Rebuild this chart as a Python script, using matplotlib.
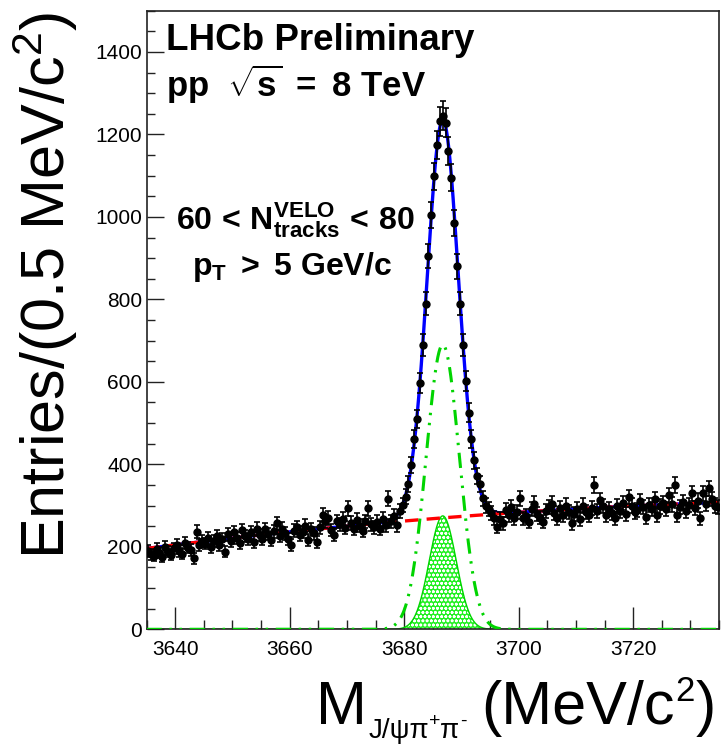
import numpy as np
import matplotlib
matplotlib.use("Agg")
import matplotlib.pyplot as plt
from matplotlib.ticker import MultipleLocator

plt.rcParams["font.family"] = ["Liberation Sans", "DejaVu Sans"]
plt.rcParams["mathtext.fontset"] = "custom"
plt.rcParams["mathtext.rm"] = "Liberation Sans"
plt.rcParams["mathtext.bf"] = "Liberation Sans:bold"
plt.rcParams["mathtext.it"] = "Liberation Sans:italic"
plt.rcParams["mathtext.sf"] = "Liberation Sans"
plt.rcParams["hatch.linewidth"] = 0.8

# ---- histogram: J/psi pi+ pi- invariant mass, 0.5 MeV bins ----
mass_lo, mass_hi, bin_width = 3635.0, 3735.0, 0.5
counts = [
    # 3635.25 - 3644.75
    190, 182, 178, 195, 186, 176, 200, 188, 181, 196,
    205, 190, 183, 210, 198, 192, 172, 237, 205, 214,
    # 3645.25 - 3654.75
    208, 222, 199, 215, 226, 205, 218, 188, 230, 214,
    236, 221, 209, 240, 226, 218, 235, 212, 244, 229,
    # 3655.25 - 3664.75
    220, 242, 231, 216, 238, 257, 226, 244, 233, 218,
    204, 239, 247, 228, 236, 251, 216, 242, 233, 212,
    # 3665.25 - 3674.75
    248, 277, 262, 270, 241, 229, 262, 255, 268, 246,
    293, 258, 244, 266, 251, 239, 262, 293, 255, 248,
    # 3675.25 - 3676.75
    260, 244, 268, 252,
    # 3677.25 - 3696.25 (signal region)
    317, 262, 275, 253, 288, 302, 322, 352, 398, 462,
    510, 598, 690, 790, 905, 1005, 1098, 1175, 1232, 1245,
    1228, 1160, 1095, 985, 880, 790, 690, 602, 525, 462,
    410, 372, 352, 318, 300, 292, 283, 270, 249,
    # 3696.75 - 3734.75
    268, 257, 290, 276, 296, 270, 284, 318, 269, 275,
    261, 292, 305, 280, 271, 261, 288, 297, 305, 283,
    270, 294, 278, 300, 285, 257, 279, 291, 268, 300,
    284, 276, 295, 350, 288, 313, 299, 278, 292, 281,
    269, 298, 287, 306, 279, 321, 300, 285, 289, 310,
    296, 273, 302, 291, 315, 277, 298, 306, 292, 325,
    303, 350, 277, 296, 309, 288, 301, 330, 294, 312,
    269, 330, 305, 342, 316, 300, 297,
]

# ---- fit model ----
# background: quadratic in (m - 3635)
bkg_coeffs = [196.0, 1.777, -0.00662]
# signal component drawn dash-dot-dot
sig1_amp, sig1_mean, sig1_sigma = 690.0, 3686.75, 2.9
# signal component drawn filled
sig2_amp, sig2_mean, sig2_sigma = 275.0, 3686.75, 2.35

x_ticks = [3640, 3660, 3680, 3700, 3720]
y_ticks = [0, 200, 400, 600, 800, 1000, 1200, 1400]

W, H = 722, 745
fig = plt.figure(figsize=(W / 100, H / 100), dpi=100)
ax_l, ax_r, ax_t, ax_b = 146.5, 719.0, 10.7, 629.3
ax = fig.add_axes([ax_l / W, 1 - ax_b / H, (ax_r - ax_l) / W, (ax_b - ax_t) / H])

counts = np.asarray(counts, dtype=float)
centres = mass_lo + bin_width * (np.arange(len(counts)) + 0.5)
errors = np.sqrt(counts)

m = np.linspace(mass_lo, mass_hi, 3000)
t = m - mass_lo
bkg = bkg_coeffs[0] + bkg_coeffs[1] * t + bkg_coeffs[2] * t ** 2
sig1 = sig1_amp * np.exp(-0.5 * ((m - sig1_mean) / sig1_sigma) ** 2)
sig2 = sig2_amp * np.exp(-0.5 * ((m - sig2_mean) / sig2_sigma) ** 2)
total = bkg + sig1 + sig2

green = "#00d400"
ax.fill_between(m, 0, sig2, facecolor="#22f022", edgecolor="white",
                hatch="oooo", linewidth=0, zorder=2)
ax.plot(m, sig2, color=green, lw=1.0, zorder=2)
ax.plot(m, sig1, color=green, lw=2.2, zorder=3,
        linestyle=(0, (5, 2.5, 0.8, 2.5, 0.8, 2.5)))
ax.plot(m, total, color="#0000ff", lw=2.4, zorder=4)
ax.plot(m, bkg, color="#ff0000", lw=2.4, zorder=5, linestyle=(0, (4, 2.5)))

ax.errorbar(centres, counts, yerr=errors, fmt="o", color="black", ms=5,
            elinewidth=1.2, capsize=2.3, capthick=1.2, zorder=6)

ax.set_xlim(mass_lo, mass_hi)
ax.set_ylim(0, 1500)
ax.set_xticks(x_ticks)
ax.set_yticks(y_ticks)
ax.xaxis.set_minor_locator(MultipleLocator(5))
ax.yaxis.set_minor_locator(MultipleLocator(50))
ax.tick_params(axis="both", which="both", direction="in", top=False, right=False,
               labelsize=15, width=1.0, color="#222222")
ax.tick_params(axis="x", which="major", length=16, pad=8)
ax.tick_params(axis="x", which="minor", length=6.5)
ax.tick_params(axis="y", which="major", length=12, pad=3)
ax.tick_params(axis="y", which="minor", length=6)
for sp in ax.spines.values():
    sp.set_linewidth(1.2)
    sp.set_color("#222222")


def fx(px):
    return px / W


def fy(py):
    return 1 - py / H


# labels inside the frame
fig.text(fx(166), fy(50), "LHCb Preliminary", fontsize=26.5, fontweight="bold",
         ha="left", va="baseline")
fig.text(fx(166), fy(97),
         r"$\mathbf{pp}\ \ \sqrt{\mathbf{s}}\ {\mathbf{=}}\ \mathbf{8\ TeV}$",
         fontsize=25, ha="left", va="baseline")
fig.text(fx(295), fy(230), r"$\mathbf{60\,<\,N^{VELO}_{tracks}\,<\,80}$",
         fontsize=23, ha="center", va="baseline")
fig.text(fx(292), fy(275), r"$\mathbf{p_{T}\ >\ 5\ GeV/c}$",
         fontsize=23, ha="center", va="baseline")

# y axis title, aligned with the top of the frame
fig.text(fx(45), fy(12), r"Entries/(0.5 MeV/c$^{2}$)", fontsize=44,
         rotation=90, ha="center", va="top")

# x axis title, built from pieces and aligned with the right of the frame
renderer = fig.canvas.get_renderer()
pieces = [
    ("M", 44, 0, 0),
    ("J/\u03c8\u03c0", 20, 14, 1),
    ("+", 14, 2, 0),
    ("\u03c0", 20, 14, 0),
    ("-", 14, 2, 1),
    ("(MeV/c", 44, 0, 14),
    ("2", 25, -23, 1),
    (")", 44, 0, 1),
]
widths = []
for s, fs, dy, gap in pieces:
    tmp = fig.text(0, 0, s, fontsize=fs)
    widths.append(tmp.get_window_extent(renderer).width)
    tmp.remove()
x_end, base = 716.0, 724.0
xpos = x_end - sum(widths) - sum(p[3] for p in pieces)
for (s, fs, dy, gap), w in zip(pieces, widths):
    xpos += gap
    fig.text(fx(xpos), fy(base + dy), s, fontsize=fs, ha="left", va="baseline")
    xpos += w

fig.savefig("out.png", dpi=100)
